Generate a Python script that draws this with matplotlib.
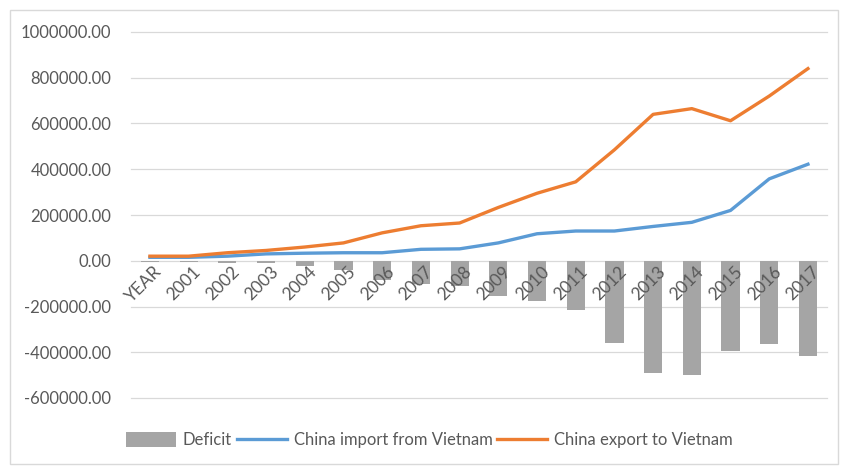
import numpy as np
import matplotlib
matplotlib.use("Agg")
import matplotlib.pyplot as plt
from matplotlib.patches import Rectangle
from matplotlib.ticker import FuncFormatter

# data
YEARS = ["YEAR", "2001", "2002", "2003", "2004", "2005", "2006", "2007", "2008",
         "2009", "2010", "2011", "2012", "2013", "2014", "2015", "2016", "2017"]
IMPORT = [15000, 15000, 20000, 30000, 33000, 35000, 35000, 50000, 52000,
          78000, 118000, 130000, 130000, 150000, 168000, 220000, 358000, 422000]
EXPORT = [20000, 20000, 35000, 45000, 60000, 78000, 122000, 153000, 165000,
          233000, 295000, 345000, 485000, 640000, 665000, 612000, 720000, 840000]
DEFICIT = [-4000, -5000, -10000, -10000, -22000, -39000, -84000, -101000, -109000,
           -153000, -175000, -214000, -358000, -489000, -498000, -393000, -362000, -415000]
YTICKS = np.arange(-600000, 1000001, 200000)

GREY_TXT = "#595959"
plt.rcParams["font.family"] = ["Lato", "DejaVu Sans"]

fig = plt.figure(figsize=(8.42, 4.66), dpi=100)
ax = fig.add_axes([130.6 / 842, 1 - 398 / 466, (827.3 - 130.6) / 842, (398 - 32) / 466])

x = np.arange(len(YEARS))
bars = ax.bar(x, DEFICIT, width=0.47, color="#A5A5A5", label="Deficit", zorder=2)
l1, = ax.plot(x, IMPORT, color="#5B9BD5", lw=2.4, label="China import from Vietnam", zorder=3)
l2, = ax.plot(x, EXPORT, color="#ED7D31", lw=2.4, label="China export to Vietnam", zorder=4)

ax.set_xlim(-0.5, len(YEARS) - 0.5)
ax.set_ylim(-600000, 1000000)
ax.set_yticks(YTICKS)
ax.yaxis.set_major_formatter(FuncFormatter(lambda v, p: f"{v:.2f}"))
for yv in YTICKS:
    ax.axhline(yv, color="#D9D9D9", lw=0.9, zorder=0, clip_on=False)
for s in ax.spines.values():
    s.set_visible(False)
ax.tick_params(axis="both", length=0, colors=GREY_TXT, labelsize=12)
ax.tick_params(axis="y", pad=14)

# category labels sit just under the zero line, rotated like Excel
ax.set_xticks([])
for xi, lab in zip(x, YEARS):
    ax.text(xi + 0.1, -10000, lab, rotation=45, rotation_mode="anchor",
            ha="right", va="top", fontsize=12.5, color=GREY_TXT, zorder=6)

leg = fig.legend(handles=[bars, l1, l2], loc="center",
                 bbox_to_anchor=(0.51, 1 - 440 / 466), ncol=3,
                 frameon=False, fontsize=12, handlelength=3.0, handleheight=1.0,
                 handletextpad=0.4, columnspacing=0.3)
for t in leg.get_texts():
    t.set_color(GREY_TXT)

fig.patches.append(Rectangle((10 / 842, 2 / 466), 828 / 842, 454 / 466,
                             transform=fig.transFigure, fill=False,
                             edgecolor="#D9D9D9", lw=1.0))

fig.savefig("out.png", dpi=100)
